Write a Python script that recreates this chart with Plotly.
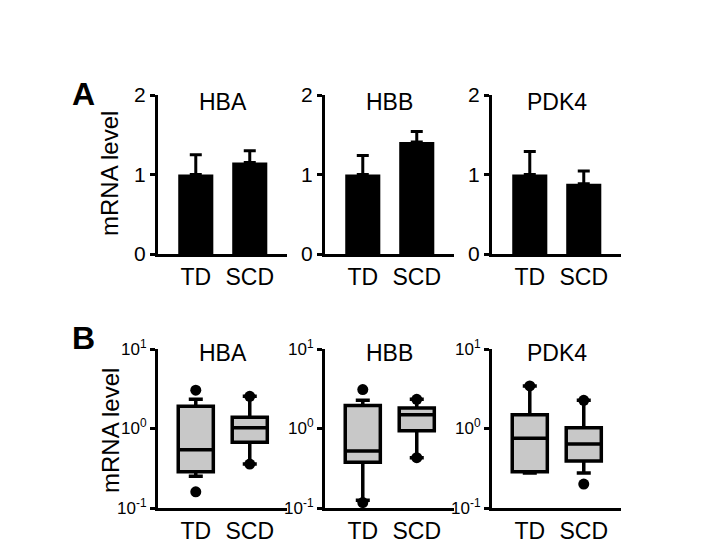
import plotly.graph_objects as go

genes = ["HBA", "HBB", "PDK4"]
groups = ["TD", "SCD"]

# Panel A: bar means and upper error
bar_means = {"HBA": [1.0, 1.15], "HBB": [1.0, 1.41], "PDK4": [1.0, 0.885]}
bar_errors = {"HBA": [0.25, 0.15], "HBB": [0.24, 0.13], "PDK4": [0.29, 0.16]}

# Panel B: box statistics
box_q1 = {"HBA": [0.286, 0.67], "HBB": [0.375, 0.94], "PDK4": [0.286, 0.39]}
box_median = {"HBA": [0.54, 1.02], "HBB": [0.52, 1.49], "PDK4": [0.755, 0.64]}
box_q3 = {"HBA": [1.90, 1.39], "HBB": [1.95, 1.81], "PDK4": [1.49, 1.02]}
box_low = {"HBA": [0.25, 0.357], "HBB": [0.125, 0.43], "PDK4": [0.275, 0.275]}
box_high = {"HBA": [2.33, 2.54], "HBB": [2.26, 2.33], "PDK4": [3.43, 2.26]}
outlier_x = {"HBA": ["TD", "TD", "SCD", "SCD"], "HBB": ["TD", "TD", "SCD", "SCD"],
             "PDK4": ["TD", "SCD", "SCD"]}
outlier_y = {"HBA": [3.03, 0.16, 2.54, 0.357], "HBB": [3.09, 0.117, 2.33, 0.43],
             "PDK4": [3.43, 2.26, 0.2]}

OFF = 8  # page body margin
W, H = 716 - 2 * OFF, 552 - 2 * OFF
FONT = "Arial, Liberation Sans, sans-serif"


def px(x):
    return (x - OFF) / W


def py(y):
    return (H - (y - OFF)) / H


x_left = [158, 325, 492]
x_width = 129
A_top, A_bot = 95, 254
B_top, B_bot = 349, 508

fig = go.Figure()
layout = dict(width=W, height=H, margin=dict(l=0, r=0, t=0, b=0, autoexpand=False),
              paper_bgcolor="white", plot_bgcolor="white", showlegend=False,
              template="none", font=dict(family=FONT, color="black"))

annotations = []
for i, g in enumerate(genes):
    xa_a = f"x{2*i+1}" if 2*i+1 > 1 else "x"
    ya_a = f"y{2*i+1}" if 2*i+1 > 1 else "y"
    xa_b = f"x{2*i+2}"
    ya_b = f"y{2*i+2}"
    dom_x = [px(x_left[i]), px(x_left[i] + x_width)]

    fig.add_trace(go.Bar(x=groups, y=bar_means[g], width=0.65,
                         marker=dict(color="black", line=dict(width=0)),
                         error_y=dict(type="data", array=bar_errors[g], arrayminus=[0, 0],
                                      symmetric=False, color="black", thickness=3, width=6),
                         xaxis=xa_a, yaxis=ya_a))
    fig.add_trace(go.Box(x=groups, q1=box_q1[g], median=box_median[g], q3=box_q3[g],
                         lowerfence=box_low[g], upperfence=box_high[g],
                         width=0.65, whiskerwidth=0.4, boxpoints=False,
                         fillcolor="#c8c8c8", line=dict(color="black", width=3.5),
                         xaxis=xa_b, yaxis=ya_b))
    fig.add_trace(go.Scatter(x=outlier_x[g], y=outlier_y[g], mode="markers",
                             marker=dict(color="black", size=11),
                             xaxis=xa_b, yaxis=ya_b))

    n_a = "" if i == 0 else str(2*i+1)
    n_b = str(2*i+2)
    xcommon = dict(domain=dom_x, range=[-0.7, 1.69], showline=True, linecolor="black",
                   linewidth=3, ticks="", showgrid=False, zeroline=False, automargin=False,
                   tickfont=dict(size=23, family=FONT, color="black"), fixedrange=True,
                   categoryorder="array", categoryarray=groups)
    layout["xaxis" + n_a] = dict(xcommon, anchor="y" + n_a)
    layout["xaxis" + n_b] = dict(xcommon, anchor="y" + n_b)
    layout["yaxis" + n_a] = dict(domain=[py(A_bot), py(A_top)], range=[0, 2],
                                 anchor="x" + n_a, showline=True, linecolor="black", linewidth=3,
                                 ticks="outside", ticklen=5, tickwidth=3, tickcolor="black",
                                 tickvals=[0, 1, 2], showgrid=False, zeroline=False,
                                 automargin=False,
                                 tickfont=dict(size=21, family=FONT, color="black"))
    layout["yaxis" + n_b] = dict(domain=[py(B_bot), py(B_top)], type="log",
                                 range=[-1, 1], anchor="x" + n_b, showline=True,
                                 linecolor="black", linewidth=3, ticks="outside", ticklen=5,
                                 tickwidth=3, tickcolor="black", tickvals=[0.1, 1, 10],
                                 ticktext=["10<sup>-1</sup>", "10<sup>0</sup>", "10<sup>1</sup>"],
                                 showgrid=False, zeroline=False, automargin=False,
                                 tickfont=dict(size=17, family=FONT, color="black"))
    cx = px(x_left[i] + x_width / 2)
    annotations.append(dict(text=g, x=cx, y=py(102), xref="paper", yref="paper",
                            xanchor="center", yanchor="middle", showarrow=False,
                            font=dict(size=23, family=FONT, color="black")))
    annotations.append(dict(text=g, x=cx, y=py(353), xref="paper", yref="paper",
                            xanchor="center", yanchor="middle", showarrow=False,
                            font=dict(size=23, family=FONT, color="black")))

for lbl, yy in [("A", 94), ("B", 338)]:
    annotations.append(dict(text="<b>" + lbl + "</b>", x=px(83), y=py(yy), xref="paper",
                            yref="paper", xanchor="center", yanchor="middle", showarrow=False,
                            font=dict(size=32, family=FONT, color="black")))
for yy in [174, 431]:
    annotations.append(dict(text="mRNA level", x=px(110), y=py(yy), xref="paper",
                            yref="paper", xanchor="center", yanchor="middle", showarrow=False,
                            textangle=-90, font=dict(size=24, family=FONT, color="black")))

layout["annotations"] = annotations
fig.update_layout(**layout)
fig.write_html("out.html")
